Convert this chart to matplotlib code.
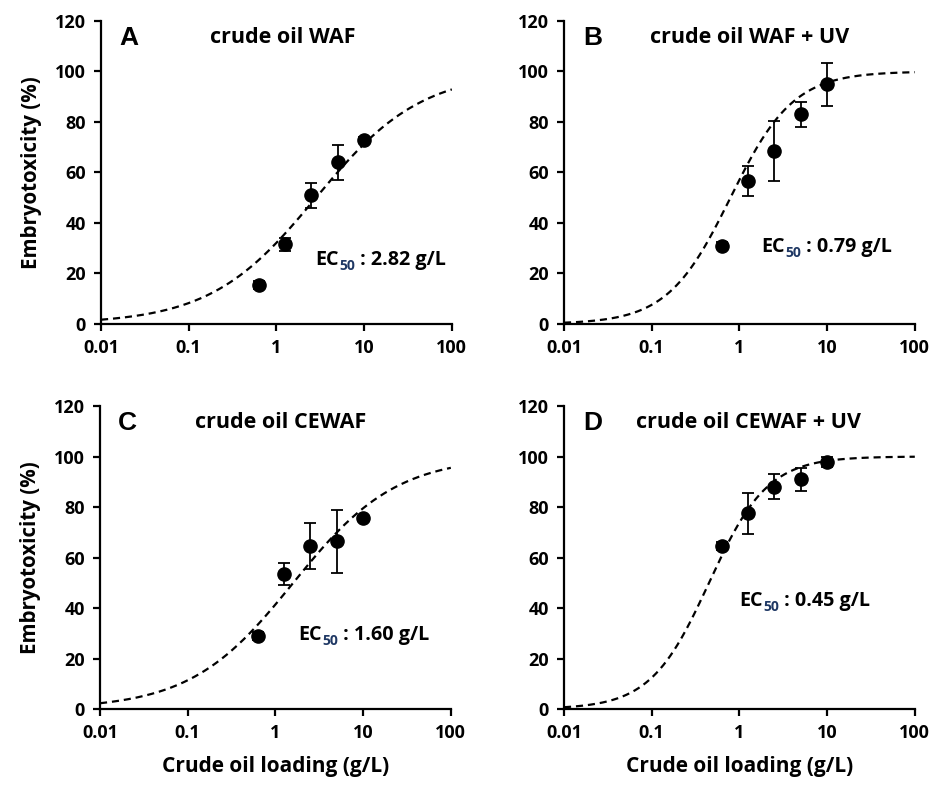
import numpy as np
import matplotlib
matplotlib.use("Agg")
import matplotlib.pyplot as plt
from matplotlib.ticker import FixedLocator, FixedFormatter, NullLocator

plt.rcParams['font.family'] = ['Open Sans', 'DejaVu Sans']
plt.rcParams['font.weight'] = 'bold'

# loading concentrations (g/L)
loading = [0.625, 1.25, 2.5, 5.0, 10.0]

# mean embryotoxicity (%) and error per panel
tox_a = [15.5, 31.5, 51.0, 64.0, 73.0]
err_a = [1.5, 2.5, 5.0, 7.0, 1.0]
tox_b = [31.0, 56.5, 68.5, 83.0, 95.0]
err_b = [1.5, 6.0, 12.0, 5.0, 8.5]
tox_c = [29.0, 53.5, 64.5, 66.5, 75.5]
err_c = [1.5, 4.5, 9.0, 12.5, 1.0]
tox_d = [64.5, 77.5, 88.0, 91.0, 98.0]
err_d = [1.5, 8.0, 5.0, 4.5, 2.0]

# fitted dose-response parameters
ec50 = [2.82, 0.79, 1.60, 0.45]
hill = [0.72, 1.21, 0.74, 1.30]

letters = ['A', 'B', 'C', 'D']
titles = ['crude oil WAF', 'crude oil WAF + UV', 'crude oil CEWAF', 'crude oil CEWAF + UV']
tox_all = [tox_a, tox_b, tox_c, tox_d]
err_all = [err_a, err_b, err_c, err_d]

# layout (figure fractions)
lefts = [0.1083, 0.6045, 0.1072, 0.6045]
bottoms = [0.5873, 0.5873, 0.0968, 0.0968]
width = 0.376
height = 0.386
letter_x = [0.051, 0.054, 0.051, 0.054]
title_x = [0.311, 0.244, 0.270, 0.205]
ec_pos = [(0.611, 0.211), (0.5625, 0.254), (0.564, 0.243), (0.50, 0.355)]

xticks = [0.01, 0.1, 1, 10, 100]
xticklabels = ['0.01', '0.1', '1', '10', '100']

fig = plt.figure(figsize=(9.33, 7.85), dpi=100)

for i in range(4):
    ax = fig.add_axes([lefts[i], bottoms[i], width, height])
    xs = np.logspace(-2, 2, 400)
    curve = 100.0 / (1.0 + (ec50[i] / xs) ** hill[i])
    ax.plot(xs, curve, color='black', linestyle=(0, (3.2, 2.2)), linewidth=1.6, zorder=2)
    ax.errorbar(loading, tox_all[i], yerr=err_all[i], fmt='o', color='black',
                markersize=9.5, elinewidth=1.3, capsize=4.5, capthick=1.3, zorder=3)

    ax.set_xscale('log')
    ax.set_xlim(0.01, 100)
    ax.set_ylim(0, 120)
    ax.xaxis.set_major_locator(FixedLocator(xticks))
    ax.xaxis.set_major_formatter(FixedFormatter(xticklabels))
    ax.xaxis.set_minor_locator(NullLocator())
    ax.set_yticks(range(0, 121, 20))

    for s in ['top', 'right']:
        ax.spines[s].set_visible(False)
    for s in ['left', 'bottom']:
        ax.spines[s].set_linewidth(1.6)
    ax.tick_params(axis='both', direction='out', length=5, width=1.6,
                   labelsize=13, pad=6)

    ax.text(letter_x[i], 0.944, letters[i], transform=ax.transAxes,
            family='Liberation Sans', fontweight='bold', fontsize=19,
            ha='left', va='center')
    ax.text(title_x[i], 0.944, titles[i], transform=ax.transAxes,
            fontweight='bold', fontsize=15.5, ha='left', va='center')

    # EC50 label: "EC" + navy subscript "50" + value
    ex, ey = ec_pos[i]
    t1 = ax.text(ex, ey, 'EC', transform=ax.transAxes,
                 fontweight='bold', fontsize=14.2, ha='left', va='center')
    t2 = ax.annotate('50', xy=(1, 0), xycoords=t1, xytext=(0.5, -2),
                     textcoords='offset points', fontweight='bold', fontsize=10,
                     color='#1f3864', ha='left', va='bottom')
    ax.annotate(' : %.2f g/L' % ec50[i], xy=(1, 0), xycoords=(t2, t1),
                fontweight='bold', fontsize=14.2, ha='left', va='bottom')

    if i % 2 == 0:
        ax.set_ylabel('Embryotoxicity (%)', fontsize=14.8, fontweight='bold', labelpad=9)
    if i >= 2:
        ax.set_xlabel('Crude oil loading (g/L)', fontsize=15, fontweight='bold', labelpad=10)

fig.savefig('out.png', dpi=100)
